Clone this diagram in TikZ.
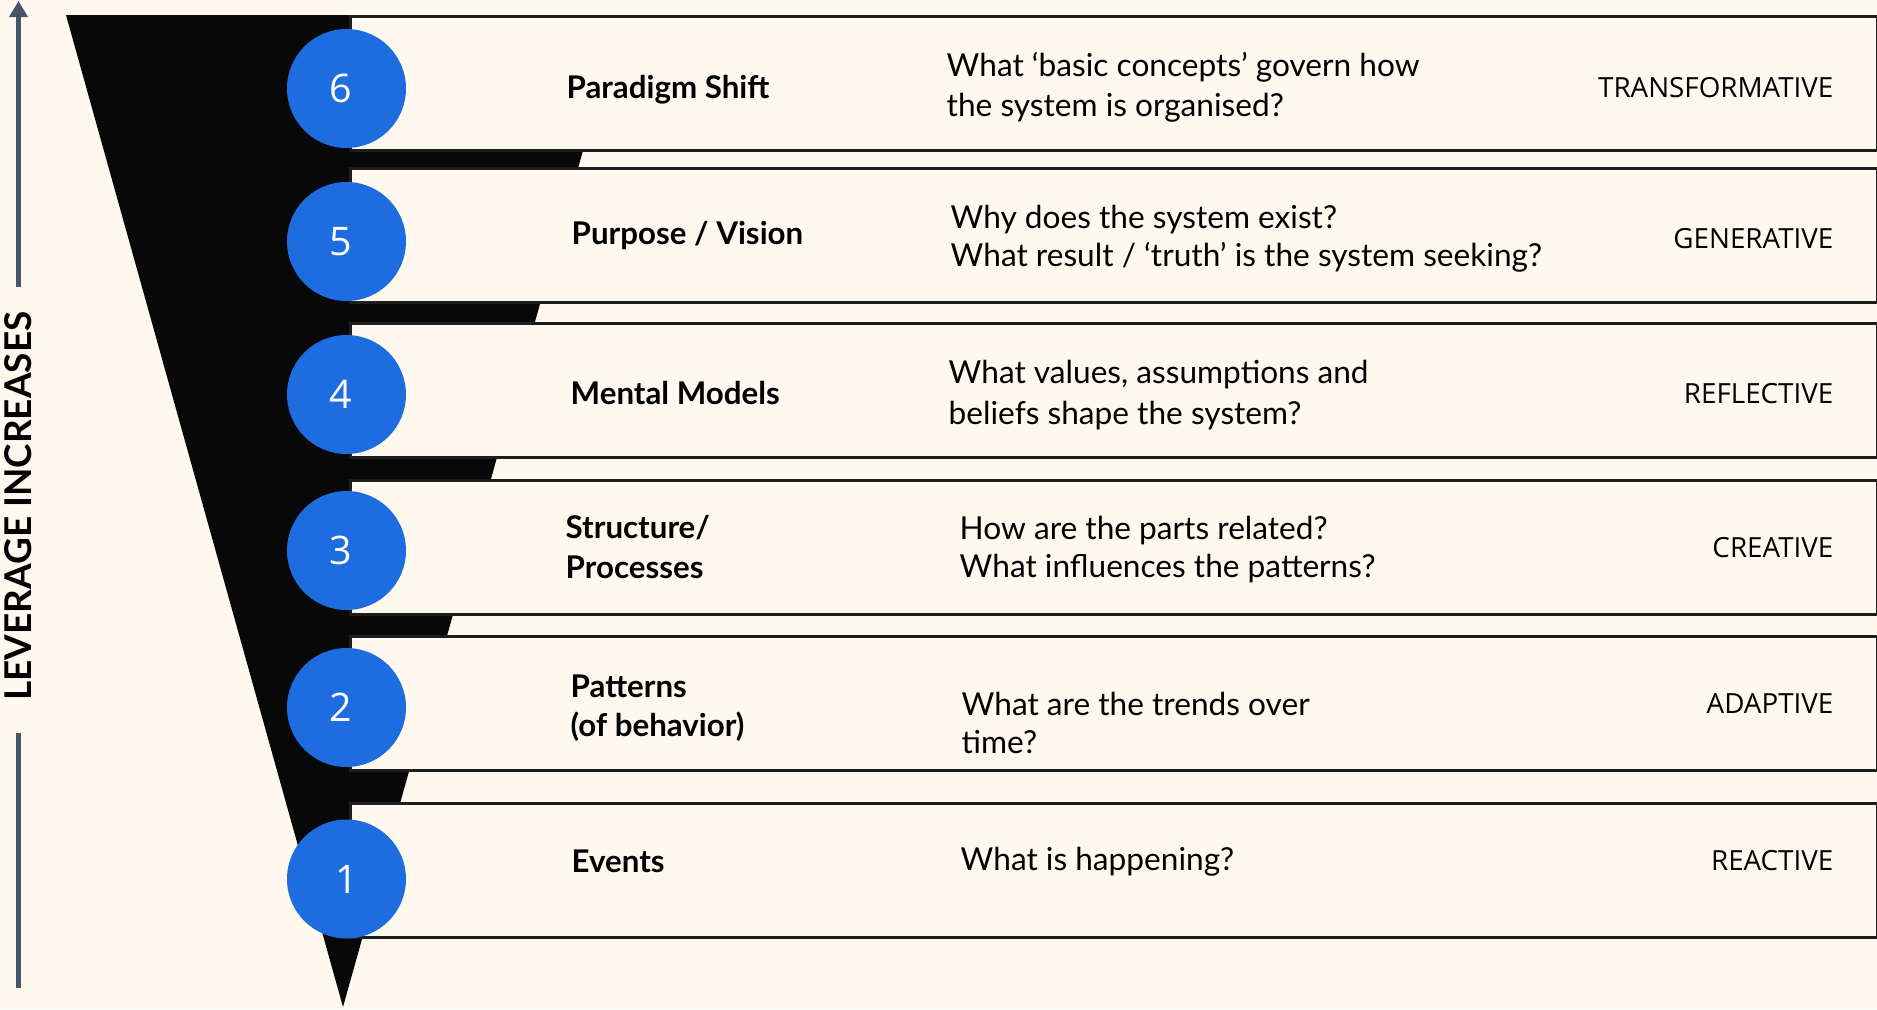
\documentclass[tikz,border=0pt]{standalone}
\usepackage{fontspec}
\setmainfont{Lato}
\newfontfamily\labelfont{Open Sans}
\usepackage{tikz}
\usetikzlibrary{positioning,arrows.meta}
\usepackage{xcolor}
\definecolor{paper}{HTML}{FFF8EE}
\definecolor{funnel}{HTML}{080808}
\definecolor{stepblue}{HTML}{1E6DE0}
\definecolor{slate}{HTML}{44546A}
\definecolor{rule}{HTML}{1E1E1E}

\begin{document}
\begin{tikzpicture}[
    x=0.1mm, y=-0.1mm,
    levelbox/.style={rectangle, draw=rule, line width=0.3mm, fill=paper, minimum width=152.7mm, minimum height=13.4mm, anchor=west, inner sep=0pt},
    stepnum/.style={circle, fill=stepblue, minimum size=11.9mm, inner sep=0pt, text=white, font=\labelfont\fontsize{11.2pt}{13pt}\selectfont},
    leveltitle/.style={anchor=west, align=left, inner sep=0pt, font=\bfseries\fontsize{8.9pt}{11.1pt}\selectfont},
    ask/.style={anchor=west, align=left, inner sep=0pt, font=\fontsize{9pt}{10.8pt}\selectfont},
    modetext/.style={anchor=east, inner sep=0pt, font=\labelfont\fontsize{7.9pt}{10pt}\selectfont},
    lever/.style={line width=0.55mm, draw=slate}
]
\useasboundingbox (0,0) rectangle (1877,1009);
\fill[paper] (0,0) rectangle (1877,1009);
\fill[funnel] (66,15) -- (621,15) -- (343,1007) -- cycle;

\node[levelbox] (box6) at (349,83) {};
\node[levelbox] (box5) at (349,235.5) {};
\node[levelbox] (box4) at (349,390.5) {};
\node[levelbox] (box3) at (349,547.5) {};
\node[levelbox] (box2) at (349,703) {};
\node[levelbox] (box1) at (349,870) {};

\node[stepnum] (num6) at (346.5,88.5) {\kern-1.2mm 6};
\node[stepnum] (num5) at (346.5,241.5) {\kern-1.2mm 5};
\node[stepnum] (num4) at (346.5,394.5) {\kern-1.2mm 4};
\node[stepnum] (num3) at (346.5,550.5) {\kern-1.2mm 3};
\node[stepnum] (num2) at (346.5,707.5) {\kern-1.2mm 2};
\node[stepnum] (num1) at (346.5,879) {1};

\node[leveltitle] (title6) at (566,90) {Paradigm Shift};
\node[leveltitle] (title5) at (571,235) {Purpose / Vision};
\node[leveltitle] (title4) at (570,393) {Mental Models};
\node[leveltitle] (title3) at (565,547) {Structure/\\Processes};
\node[leveltitle] (title2) at (570,708) {Patterns\\(of behavior)};
\node[leveltitle] (title1) at (571,861) {Events};

\node[ask] (ask6) at (946,87) {What ‘basic concepts’ govern how\\[0.7pt]the system is organised?};
\node[ask] (ask5) at (950,239) {Why does the system exist?\\What result / ‘truth’ is the system seeking?};
\node[ask] (ask4) at (948,395) {What values, assumptions and\\[0.7pt]beliefs shape the system?};
\node[ask] (ask3) at (959,550) {How are the parts related?\\What influences the patterns?};
\node[ask] (ask2) at (961,723) {What are the trends over\\time?};
\node[ask] (ask1) at (960,862) {What is happening?};

\node[modetext] (mode6) at (1834,87.5) {TRANSFORMATIVE};
\node[modetext] (mode5) at (1834,239) {GENERATIVE};
\node[modetext] (mode4) at (1834,394) {REFLECTIVE};
\node[modetext] (mode3) at (1834,548) {CREATIVE};
\node[modetext] (mode2) at (1834,703.5) {ADAPTIVE};
\node[modetext] (mode1) at (1834,860.5) {REACTIVE};

\node[rotate=90, inner sep=0pt, font=\bfseries\fontsize{10.5pt}{12pt}\selectfont] (lever) at (18.5,506) {LEVERAGE INCREASES};
\coordinate (levertop) at (18.5,1);
\coordinate (leverfoot) at (18.5,988);
\draw[lever, -{Triangle[length=1.6mm, width=1.8mm]}, shorten <=2.4mm] (lever.east) -- (levertop);
\draw[lever, shorten >=3.2mm] (leverfoot) -- (lever.west);
\end{tikzpicture}
\end{document}
